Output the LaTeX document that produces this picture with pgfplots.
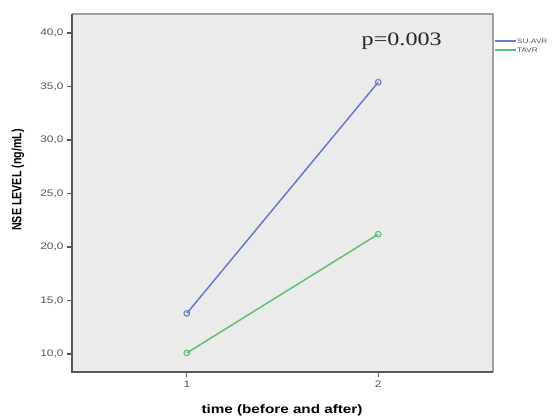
\documentclass[border=0pt]{standalone}
\usepackage{pgfplots}
\pgfplotsset{compat=1.18}
\usepackage{fontspec}
\usepackage{graphicx}
\setmainfont{Liberation Sans}
\newfontfamily\widesans[FakeStretch=1.25]{Liberation Sans}
\newfontfamily\wideserif[FakeStretch=1.27]{Liberation Serif}
\definecolor{bgc}{RGB}{235,235,235}
\definecolor{suavr}{RGB}{100,122,204}
\definecolor{tavr}{RGB}{88,196,112}
\definecolor{tickc}{RGB}{85,85,85}
\newcommand{\lgs}{\rule[-2.5pt]{0pt}{9pt}}
\begin{document}
\begin{tikzpicture}[x=1pt,y=1pt]
\useasboundingbox (0,0) rectangle (552,420);
\begin{axis}[
  at={(72pt,48pt)}, anchor=south west,
  scale only axis, width=421pt, height=358pt,
  xmin=0.4, xmax=2.6, ymin=8.32, ymax=41.78,
  axis background/.style={fill=bgc},
  axis line style={draw=none},
  xtick={1,2}, ytick={10,15,20,25,30,35,40},
  xtick pos=bottom, ytick pos=left,
  tick align=outside, major tick length=5pt,
  tick style={tickc, line width=1.2pt},
  /pgf/number format/.cd, fixed, fixed zerofill, precision=1, use comma, assume math mode=true,
  /pgfplots/.cd,
  xticklabel style={/pgf/number format/precision=0, /pgf/number format/fixed zerofill=false},
  ticklabel style={font=\widesans\fontsize{9.5}{10}\selectfont, text=tickc},
  legend style={at={(1.0,0.94)}, anchor=north west, draw=none, fill=none,
    font=\widesans\fontsize{6.5}{6.5}\selectfont, inner sep=1pt,
    nodes={inner sep=0.5pt, text=tickc}},
  legend cell align=left,
  legend image code/.code={\draw[#1] (0pt,0pt) -- (21pt,0pt);},
  clip=false,
]
\addplot[color=suavr, line width=1.5pt, mark=o, mark size=2.8pt, mark options={line width=1.1pt}, forget plot]
  coordinates {(1,13.8) (2,35.4)};
\addplot[color=tavr, line width=1.5pt, mark=o, mark size=2.8pt, mark options={line width=1.1pt}, forget plot]
  coordinates {(1,10.1) (2,21.2)};
\addlegendimage{color=suavr, line width=1.5pt}
\addlegendentry{\lgs SU-AVR}
\addlegendimage{color=tavr, line width=1.5pt}
\addlegendentry{\lgs TAVR}
\draw[gray!75, line width=1.6pt] (rel axis cs:0,1) -- (rel axis cs:1,1) -- (rel axis cs:1,0);
\draw[black!65, line width=1.8pt] (rel axis cs:0,1) -- (rel axis cs:0,0) -- (rel axis cs:1,0);
\node[text=black!85, inner sep=0pt] at (axis cs:2.123,39.2) {\wideserif\fontsize{19}{19}\selectfont p=0.003};
\end{axis}
\node[rotate=90, inner sep=0pt] at (18,240) {\scalebox{1}[1.25]{\bfseries\fontsize{10.7}{11}\selectfont NSE LEVEL (ng/mL)}};
\node[inner sep=0pt] at (282,10) {\widesans\bfseries\fontsize{12.2}{13}\selectfont time (before and after)};
\end{tikzpicture}
\end{document}
